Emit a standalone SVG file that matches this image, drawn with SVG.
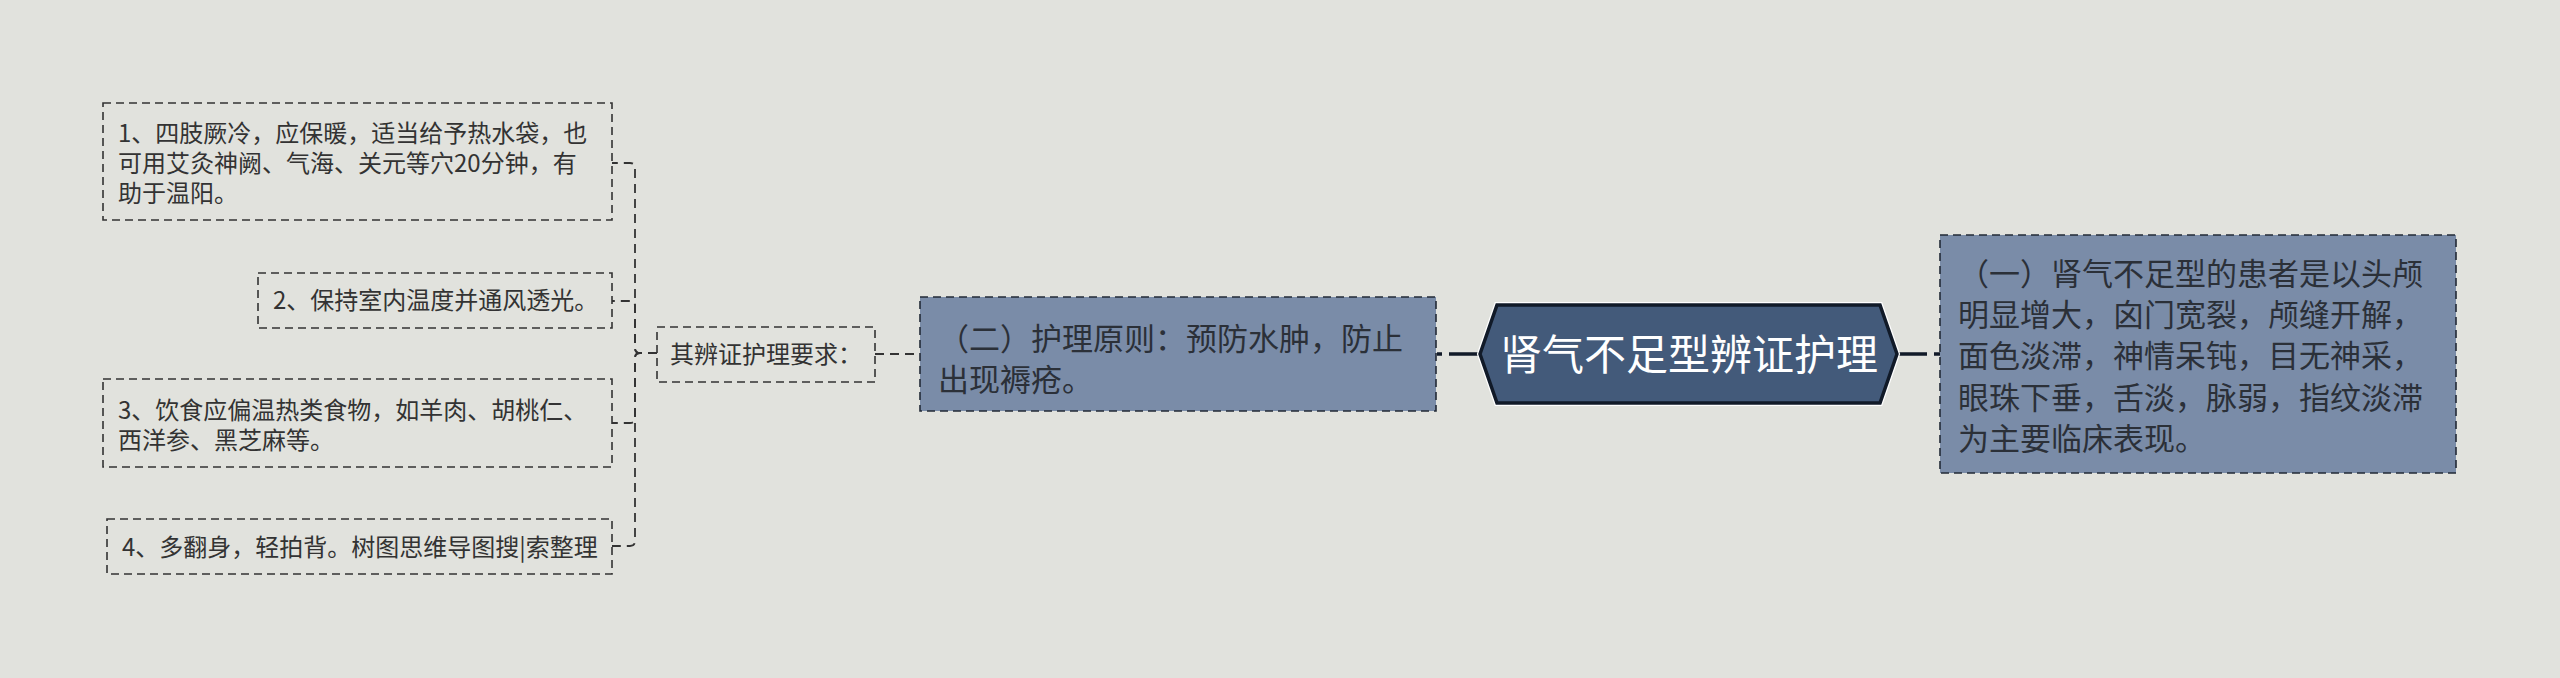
<svg xmlns="http://www.w3.org/2000/svg" width="2560" height="678" viewBox="0 0 2560 678">
<style>
.t{font-family:"Noto Sans CJK SC","Noto Sans",sans-serif;}
.s{font-size:24px;fill:#333333;}
.m{font-size:31px;fill:#2b3038;}
.c{font-size:42px;fill:#ffffff;}
.lb{fill:none;stroke:#333333;stroke-width:1.6;stroke-dasharray:8 5;}
.bb{fill:#7a8ca8;stroke:#222a36;stroke-width:1.6;stroke-dasharray:8 5;}
.cn{fill:none;stroke:#333333;stroke-width:1.8;stroke-dasharray:9 6;}
.sc{fill:none;stroke:#111a28;stroke-width:3.5;}
</style>
<rect width="2560" height="678" fill="#e1e2dd"/>
<g id="connectors">
<path class="cn" d="M657,353 H640 Q635,353 635,348 V168 Q635,163 630,163 H612"/>
<path class="cn" d="M657,353 H640 Q635,353 635,348 V306 Q635,301 630,301 H612"/>
<path class="cn" d="M657,353 H640 Q635,353 635,358 V418 Q635,423 630,423 H612"/>
<path class="cn" d="M657,353 H640 Q635,353 635,358 V541 Q635,546 630,546 H612"/>
<path class="cn" d="M875,354 H920"/>
<path class="sc" d="M1437,354 H1442 M1449,354 H1480"/>
<path class="sc" d="M1897,354 H1927 M1934,354 H1940"/>
</g>
<g id="root">
<polygon points="1480,354 1497,305 1880,305 1897,354 1880,403 1497,403" fill="none" stroke="#ffffff" stroke-width="6"/>
<polygon points="1480,354 1497,305 1880,305 1897,354 1880,403 1497,403" fill="#435a7a" stroke="#111a28" stroke-width="3.5"/>
<text class="t c" x="1689" y="370" text-anchor="middle">肾气不足型辨证护理</text>
</g>
<g id="n1">
<rect class="bb" x="1940" y="235" width="516" height="238"/>
<text class="t m" x="1958" y="285">（一）肾气不足型的患者是以头颅</text>
<text class="t m" x="1958" y="326">明显增大，囟门宽裂，颅缝开解，</text>
<text class="t m" x="1958" y="367">面色淡滞，神情呆钝，目无神采，</text>
<text class="t m" x="1958" y="409">眼珠下垂，舌淡，脉弱，指纹淡滞</text>
<text class="t m" x="1958" y="450">为主要临床表现。</text>
</g>
<g id="n2">
<rect class="bb" x="920" y="297" width="516" height="114"/>
<text class="t m" x="938" y="350">（二）护理原则：预防水肿，防止</text>
<text class="t m" x="938" y="391">出现褥疮。</text>
</g>
<g id="n3">
<rect class="lb" x="657" y="327" width="218" height="55"/>
<text class="t s" x="670" y="363">其辨证护理要求：</text>
</g>
<g id="n4">
<rect class="lb" x="103" y="103" width="509" height="117"/>
<text class="t s" x="118" y="142">1、四肢厥冷，应保暖，适当给予热水袋，也</text>
<text class="t s" x="118" y="172">可用艾灸神阙、气海、关元等穴20分钟，有</text>
<text class="t s" x="118" y="202">助于温阳。</text>
</g>
<g id="n5">
<rect class="lb" x="258" y="273" width="354" height="55"/>
<text class="t s" x="273" y="309">2、保持室内温度并通风透光。</text>
</g>
<g id="n6">
<rect class="lb" x="103" y="379" width="509" height="88"/>
<text class="t s" x="118" y="419">3、饮食应偏温热类食物，如羊肉、胡桃仁、</text>
<text class="t s" x="118" y="449">西洋参、黑芝麻等。</text>
</g>
<g id="n7">
<rect class="lb" x="107" y="519" width="505" height="55"/>
<text class="t s" x="122" y="556">4、多翻身，轻拍背。树图思维导图搜|索整理</text>
</g>
</svg>
